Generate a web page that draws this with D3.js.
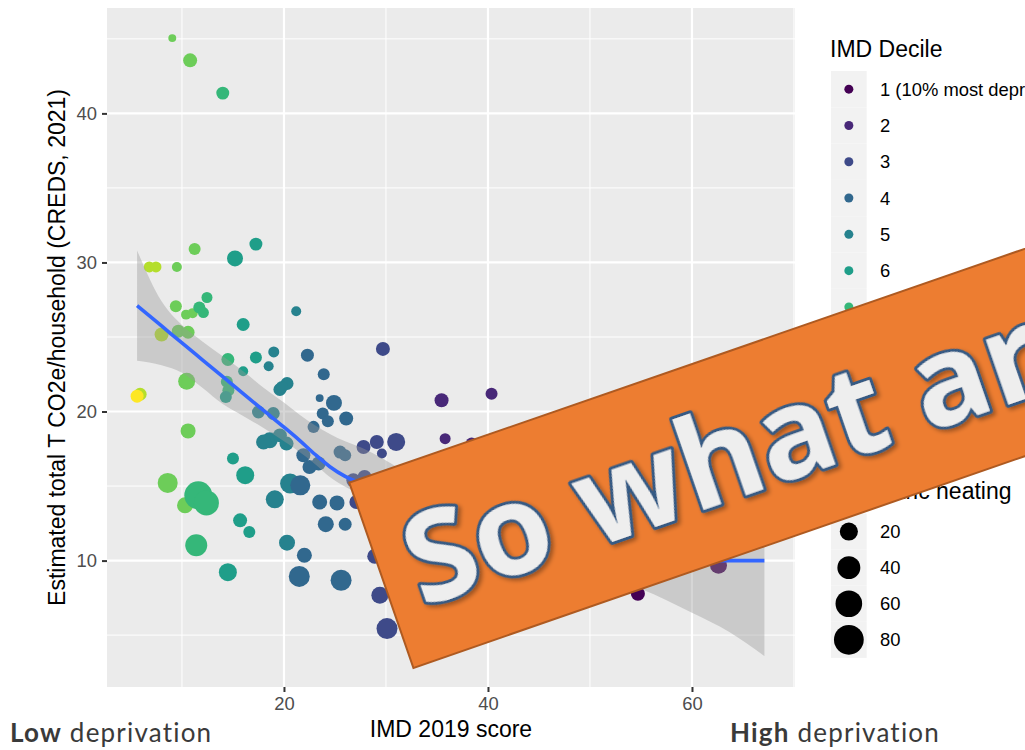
<!DOCTYPE html>
<html>
<head>
<meta charset="utf-8">
<script src="https://cdn.jsdelivr.net/npm/d3@7"></script>
<style>
  html, body { margin: 0; padding: 0; background: #ffffff; }
  svg { display: block; }
</style>
</head>
<body>
<svg id="chart" width="1025" height="750"></svg>
<script>
// Local-area household emissions vs. deprivation score
const imdScore = [9.05,10.8,14.0,11.24,15.2,17.25,6.8,7.45,9.5,12.45,21.2,9.4,10.4,11.05,11.7,12.1,16.0,8.0,29.7,9.64,
  10.6,14.5,17.25,19.0,16.0,18.5,10.46,5.9,5.6,14.4,14.55,14.3,19.6,20.3,19.8,17.5,18.95,10.6,35.45,35.8,
  22.3,23.9,23.5,24.9,26.1,23.8,24.3,22.9,27.8,29.1,31.0,29.6,18.6,19.6,20.25,18.0,21.9,23.4,22.5,25.5,
  26.0,15.0,16.2,8.6,10.3,11.6,12.4,15.7,16.6,11.4,14.5,19.1,20.6,21.6,20.3,21.5,22.0,23.5,25.2,24.1,
  26.0,25.6,28.9,29.4,30.1,26.8,27.9,27.1,40.35,38.4,54.7,62.6,67.1];
const co2PerHousehold = [45.05,43.56,41.36,30.9,30.27,31.23,29.7,29.7,29.7,27.65,26.73,27.07,26.5,26.6,26.98,26.64,25.84,25.17,24.2,25.39,
  25.32,23.49,23.62,24.0,22.7,23.04,22.03,21.16,21.03,21.99,21.43,20.98,21.48,21.88,21.65,19.97,19.87,18.7,20.76,18.18,
  23.78,22.5,20.9,20.58,19.53,19.87,19.35,18.97,17.62,17.96,17.96,17.18,18.07,18.4,17.85,17.96,17.07,16.51,16.28,17.28,
  17.07,16.85,15.73,15.21,13.71,14.38,13.87,12.7,11.92,11.03,9.22,14.11,15.17,15.05,11.2,8.94,10.36,13.93,13.87,12.44,
  12.44,8.68,10.29,7.68,5.44,15.39,15.61,13.93,21.2,17.85,7.78,9.68,11.5];
const imdDecile = [8,8,7,8,6,6,9,9,8,7,5,8,8,8,7,7,6,9,3,8,
  8,7,6,5,6,5,8,9,10,7,7,6,5,5,5,5,5,8,2,2,
  4,4,4,4,4,4,4,4,3,3,3,3,5,5,5,5,4,4,4,4,
  4,6,6,8,8,7,7,6,6,7,6,5,5,4,5,4,4,4,4,4,
  4,4,3,3,3,3,3,3,2,2,1,1,1];
const electricHeating = [0.3,8.3,6.2,4.5,13.3,6.2,3,3,1.8,3,1.8,4.5,1.8,1.8,4.5,3,6.2,8.3,8.3,6.2,
  6.2,6.2,4.5,3,1.8,1.8,16.3,6.2,6.2,4.5,4.5,4.5,6.2,6.2,4.5,6.2,6.2,10.7,8.3,3,
  6.2,4.5,0.3,13.3,8.3,4.5,4.5,4.5,8.3,8.3,19.6,1.8,13.3,8.3,8.3,10.7,8.3,8.3,8.3,6.2,
  4.5,4.5,19.6,27,13.3,68,50.6,8.3,4.5,35.5,19.6,19.6,27,27,13.3,31,10.7,10.7,10.7,13.3,
  6.2,31,10.7,16.3,31,8.3,8.3,8.3,4.5,4.5,8.3,16.3,3];

// Smoothed trend (loess fit with 95% band)
const smoothX   = [5.6, 8, 10, 12, 14, 16, 18, 20, 21.5, 23, 24.5, 26, 27.5, 29, 32, 35, 40, 45, 50, 55, 60, 63.7, 67.1];
const smoothFit = [27.1, 25.74, 24.6, 23.47, 22.34, 21.2, 20.07, 18.95, 18.08, 17.15, 16.3, 15.65, 15.2, 14.85, 14.0, 13.1, 12.0, 11.1, 10.5, 10.15, 10.0, 10.0, 10.0];
const smoothLo  = [23.4, 23.1, 22.6, 21.6, 20.5, 19.7, 18.9, 18.0, 17.3, 16.5, 15.6, 14.95, 14.45, 14.0, 13.0, 12.0, 10.8, 9.9, 9.1, 8.1, 6.5, 5.2, 3.6];
const smoothHi  = [30.8, 27.4, 25.8, 24.7, 23.7, 22.7, 21.6, 20.6, 19.8, 19.1, 18.5, 18.0, 17.6, 17.1, 15.9, 14.8, 13.6, 12.9, 12.3, 12.3, 13.5, 14.8, 16.4];

const decileLabels = ["1 (10% most deprived)","2","3","4","5","6","7","8","9","10 (10% least deprived)"];
const decileColours = ["#440154","#482878","#3E4A89","#31688E","#26828E","#1F9E89","#35B779","#6DCD59","#B4DE2C","#FDE725"];
const sizeBreaks = [20, 40, 60, 80];
const xTicks = [20, 40, 60];
const xMinor = [10, 30, 50, 70];
const yTicks = [10, 20, 30, 40];
const yMinor = [5, 15, 25, 35, 45];

const svg = d3.select("#chart");
const panel = {left: 107, right: 795, top: 8, bottom: 687};

const x = d3.scaleLinear().domain([2.65, 70.1]).range([panel.left, panel.right]);
const y = d3.scaleLinear().domain([1.52, 47.07]).range([panel.bottom, panel.top]);
const r = d3.scalePow().exponent(0.5).domain([0, 100]).range([3.25, 16.25]);
const colour = d3.scaleOrdinal().domain(d3.range(1, 11)).range(decileColours);

const axisFont = "'Liberation Sans', Arial, sans-serif";

svg.append("rect").attr("width", 1025).attr("height", 750).attr("fill", "#ffffff");

// panel background and grid
svg.append("rect")
  .attr("x", panel.left).attr("y", panel.top)
  .attr("width", panel.right - panel.left).attr("height", panel.bottom - panel.top)
  .attr("fill", "#EBEBEB");

svg.append("defs").append("clipPath").attr("id", "panelClip")
  .append("rect")
  .attr("x", panel.left).attr("y", panel.top)
  .attr("width", panel.right - panel.left).attr("height", panel.bottom - panel.top);

const grid = svg.append("g").attr("clip-path", "url(#panelClip)");
grid.selectAll(".xminor").data(xMinor).join("line")
  .attr("x1", d => x(d)).attr("x2", d => x(d))
  .attr("y1", panel.top).attr("y2", panel.bottom)
  .attr("stroke", "#ffffff").attr("stroke-width", 1);
grid.selectAll(".yminor").data(yMinor).join("line")
  .attr("y1", d => y(d)).attr("y2", d => y(d))
  .attr("x1", panel.left).attr("x2", panel.right)
  .attr("stroke", "#ffffff").attr("stroke-width", 1);
grid.selectAll(".xmajor").data(xTicks).join("line")
  .attr("x1", d => x(d)).attr("x2", d => x(d))
  .attr("y1", panel.top).attr("y2", panel.bottom)
  .attr("stroke", "#ffffff").attr("stroke-width", 2.2);
grid.selectAll(".ymajor").data(yTicks).join("line")
  .attr("y1", d => y(d)).attr("y2", d => y(d))
  .attr("x1", panel.left).attr("x2", panel.right)
  .attr("stroke", "#ffffff").attr("stroke-width", 2.2);

// axes
const xAxis = svg.append("g")
  .attr("transform", `translate(0,${panel.bottom})`)
  .call(d3.axisBottom(x).tickValues(xTicks).tickSize(5).tickPadding(5));
const yAxis = svg.append("g")
  .attr("transform", `translate(${panel.left},0)`)
  .call(d3.axisLeft(y).tickValues(yTicks).tickSize(5).tickPadding(5));
[xAxis, yAxis].forEach(g => {
  g.select(".domain").remove();
  g.selectAll(".tick line").attr("stroke", "#333333").attr("stroke-width", 2);
  g.selectAll(".tick text").attr("fill", "#4D4D4D")
    .style("font-family", axisFont).style("font-size", "18.4px");
});

// points
const points = d3.range(imdScore.length).map(i => ({
  x: imdScore[i], y: co2PerHousehold[i], d: imdDecile[i], e: electricHeating[i]
}));
const plot = svg.append("g").attr("clip-path", "url(#panelClip)");
plot.selectAll("circle.pt").data(points).join("circle")
  .attr("class", "pt")
  .attr("cx", d => x(d.x)).attr("cy", d => y(d.y))
  .attr("r", d => r(d.e))
  .attr("fill", d => colour(d.d));

// trend band and line
const smooth = smoothX.map((v, i) => ({x: v, fit: smoothFit[i], lo: smoothLo[i], hi: smoothHi[i]}));
plot.append("path").datum(smooth)
  .attr("d", d3.area().x(d => x(d.x)).y0(d => y(d.lo)).y1(d => y(d.hi)).curve(d3.curveMonotoneX))
  .attr("fill", "#999999").attr("fill-opacity", 0.4);
plot.append("path").datum(smooth)
  .attr("d", d3.line().x(d => x(d.x)).y(d => y(d.fit)).curve(d3.curveMonotoneX))
  .attr("fill", "none").attr("stroke", "#3366FF").attr("stroke-width", 3.6);

// axis titles
svg.append("text")
  .attr("x", (panel.left + panel.right) / 2).attr("y", 737)
  .attr("text-anchor", "middle")
  .style("font-family", axisFont).style("font-size", "23px").attr("fill", "#000")
  .text("IMD 2019 score");
svg.append("text")
  .attr("transform", `translate(65,${(panel.top + panel.bottom) / 2}) rotate(-90)`)
  .attr("text-anchor", "middle")
  .style("font-family", axisFont).style("font-size", "23px").attr("fill", "#000")
  .text("Estimated total T CO2e/household (CREDS, 2021)");

// colour legend
const legX = 831, keyW = 35.7, keyH = 36.3;
svg.append("text").attr("x", 830).attr("y", 56.5)
  .style("font-family", axisFont).style("font-size", "23px").attr("fill", "#000")
  .text("IMD Decile");
const colLeg = svg.append("g");
colLeg.selectAll("rect").data(decileLabels).join("rect")
  .attr("x", legX).attr("y", (d, i) => 71 + i * keyH)
  .attr("width", keyW).attr("height", keyH).attr("fill", "#F2F2F2");
colLeg.selectAll("circle").data(decileLabels).join("circle")
  .attr("cx", legX + keyW / 2).attr("cy", (d, i) => 71 + i * keyH + keyH / 2)
  .attr("r", 4.5).attr("fill", (d, i) => decileColours[i]);
colLeg.selectAll("text").data(decileLabels).join("text")
  .attr("x", 880).attr("y", (d, i) => 71 + i * keyH + keyH / 2 + 6.6)
  .style("font-family", axisFont).style("font-size", "18.4px").attr("fill", "#000")
  .text(d => d);

// size legend
svg.append("text").attr("x", 830).attr("y", 499)
  .style("font-family", axisFont).style("font-size", "23px").attr("fill", "#000")
  .text("% electric heating");
const sizeLeg = svg.append("g");
const sizeTop = 513.5, sizeKeyH = 36.1;
sizeLeg.selectAll("rect").data(sizeBreaks).join("rect")
  .attr("x", legX).attr("y", (d, i) => sizeTop + i * sizeKeyH)
  .attr("width", keyW).attr("height", sizeKeyH).attr("fill", "#F2F2F2");
sizeLeg.selectAll("circle").data(sizeBreaks).join("circle")
  .attr("cx", legX + keyW / 2).attr("cy", (d, i) => sizeTop + i * sizeKeyH + sizeKeyH / 2)
  .attr("r", d => r(d)).attr("fill", "#000");
sizeLeg.selectAll("text").data(sizeBreaks).join("text")
  .attr("x", 880).attr("y", (d, i) => sizeTop + i * sizeKeyH + sizeKeyH / 2 + 6.6)
  .style("font-family", axisFont).style("font-size", "18.4px").attr("fill", "#000")
  .text(d => d);

// deprivation direction labels
const dirFont = "Lato, 'Open Sans', sans-serif";
[["Low", 10], ["High", 730]].forEach(([word, xPos]) => {
  const t = svg.append("text").attr("x", xPos).attr("y", 742)
    .style("font-family", dirFont).style("font-size", "26px")
    .style("letter-spacing", "1.2px").attr("fill", "#3A3A3A");
  t.append("tspan").style("font-weight", 700).text(word);
  t.append("tspan").style("font-weight", 400).text(" deprivation");
});

// banner
const defs = svg.select("defs");
const shadow = defs.append("filter").attr("id", "textShadow")
  .attr("x", "-10%").attr("y", "-10%").attr("width", "130%").attr("height", "130%");
shadow.append("feDropShadow").attr("dx", 2).attr("dy", 3).attr("stdDeviation", 2)
  .attr("flood-color", "#000").attr("flood-opacity", 0.35);

const banner = svg.append("g").attr("transform", "translate(349.3,482.7) rotate(-19.1)");
banner.append("rect").attr("x", 0).attr("y", 0).attr("width", 900).attr("height", 196)
  .attr("fill", "#ED7D31").attr("stroke", "#AE5A21").attr("stroke-width", 2);
banner.append("text").attr("x", 28).attr("y", 142)
  .style("font-family", "'Open Sans', sans-serif").style("font-weight", 700).style("font-size", "126px")
  .attr("fill", "#EEEEEE").attr("stroke", "#345A84").attr("stroke-width", 6)
  .attr("stroke-linejoin", "round").style("paint-order", "stroke")
  .attr("filter", "url(#textShadow)")
  .text("So what are");
</script>
</body>
</html>
